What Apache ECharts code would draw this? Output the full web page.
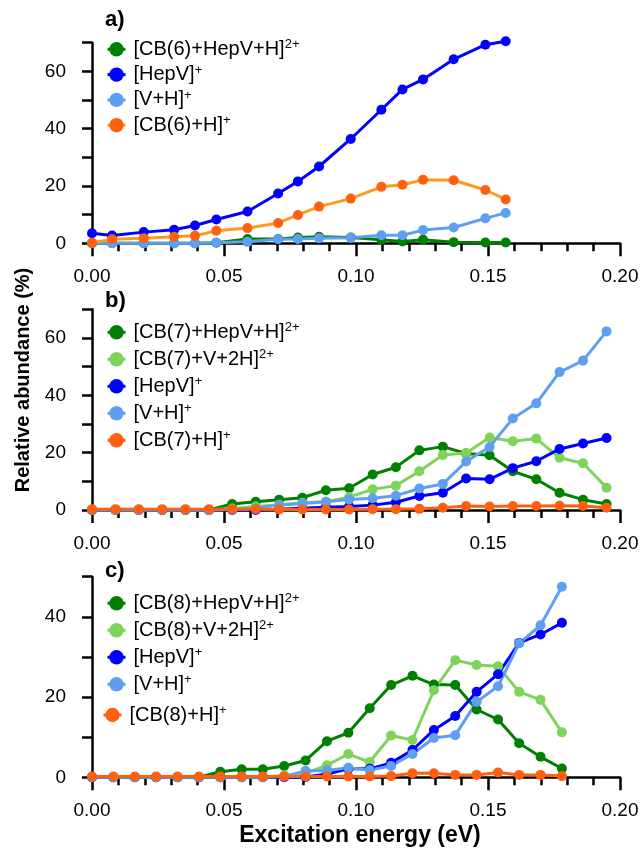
<!DOCTYPE html>
<html><head><meta charset="utf-8">
<script src="https://cdn.jsdelivr.net/npm/echarts@6/dist/echarts.min.js"></script>
<style>html,body{margin:0;padding:0;background:#fff}#c{width:643px;height:851px}</style>
</head><body><div id="c"></div>
<script>
// ---------- data ----------
const xTickLabels = ['0.00','0.05','0.10','0.15','0.20'];
const yTickLabels = [0,20,40,60];

// panel a
const xA = [0, 0.0076, 0.0196, 0.0311, 0.0390, 0.0471, 0.0589, 0.0705, 0.0780, 0.0860, 0.0980, 0.1096, 0.1176, 0.1254, 0.1370, 0.1490, 0.1567];
const aComplex = [0, 0, 0, 0, 0, 0.2, 1.5, 1.5, 2.0, 2.3, 2.0, 1.2, 0.6, 1.2, 0.4, 0.3, 0.3];
const aHepV    = [3.5, 2.7, 3.9, 4.7, 6.2, 8.3, 11.1, 17.4, 21.6, 26.8, 36.4, 46.6, 53.7, 57.2, 64.2, 69.3, 70.5];
const aVH      = [0, 0, 0, 0, 0, 0.2, 0.5, 1.4, 1.5, 1.8, 1.9, 2.8, 2.8, 4.6, 5.5, 8.7, 10.6];
const aCBH     = [0.2, 1.4, 1.8, 2.3, 2.6, 4.4, 5.3, 7.1, 9.9, 12.8, 15.6, 19.7, 20.4, 22.2, 22.0, 18.6, 15.3];

// panel b
const xB = [0, 0.0089, 0.0177, 0.0266, 0.0354, 0.0443, 0.0531, 0.0620, 0.0709, 0.0797, 0.0886, 0.0974, 0.1063, 0.1151, 0.1240, 0.1329, 0.1417, 0.1506, 0.1594, 0.1683, 0.1771, 0.1860, 0.1949];
const bComplex = [0, 0, 0, 0, 0, 0, 2.1, 2.9, 3.6, 4.3, 6.9, 7.6, 12.4, 14.9, 20.8, 22.1, 19.7, 19.1, 13.5, 10.7, 6.0, 3.6, 2.1];
const bCBV2H   = [0, 0, 0, 0, 0, 0, 0.5, 1.2, 1.8, 2.5, 2.9, 4.5, 7.2, 8.5, 13.5, 19.2, 19.9, 25.3, 24.0, 24.9, 18.2, 16.3, 7.8];
const bHepV    = [0, 0, 0, 0, 0, 0, 0, 0, 0.3, 0.6, 1.0, 1.2, 1.7, 2.7, 4.9, 6.0, 11.0, 10.7, 14.6, 17.0, 21.3, 23.2, 25.1];
const bVH      = [0, 0, 0, 0, 0, 0, 0.2, 0.6, 1.7, 2.3, 2.9, 3.7, 4.1, 5.0, 7.5, 9.1, 16.9, 22.0, 31.9, 37.2, 48.1, 52.1, 62.3];
const bCBH     = [0.3, 0.3, 0.3, 0.3, 0.3, 0.3, 0.3, 0.3, 0.2, 0.2, 0.2, 0.2, 0.3, 0.3, 0.4, 0.8, 1.4, 1.2, 1.4, 1.4, 1.5, 1.4, 0.8];

// panel c
const xC = [0, 0.0081, 0.0162, 0.0243, 0.0324, 0.0405, 0.0486, 0.0567, 0.0647, 0.0728, 0.0809, 0.0890, 0.0971, 0.1052, 0.1133, 0.1214, 0.1295, 0.1376, 0.1457, 0.1538, 0.1618, 0.1699, 0.1780];
const cComplex = [0, 0, 0, 0, 0, 0, 1.4, 2.0, 2.0, 2.8, 4.2, 9.0, 11.1, 17.2, 23.0, 25.3, 23.1, 23.0, 16.9, 14.4, 8.5, 5.1, 2.2];
const cCBV2H   = [0, 0, 0, 0, 0, 0, 0, 0, 0, 0.5, 1.0, 3.0, 5.8, 3.8, 10.4, 9.3, 21.7, 29.2, 28.0, 27.7, 21.3, 19.3, 11.2];
const cHepV    = [0, 0, 0, 0, 0, 0, 0, 0, 0, 0, 0.1, 0.8, 2.1, 2.1, 3.6, 6.8, 11.8, 15.3, 21.3, 25.7, 33.5, 35.6, 38.5];
const cVH      = [0, 0, 0, 0, 0, 0, 0, 0, 0, 0.2, 1.6, 1.7, 2.4, 1.8, 2.8, 5.8, 9.8, 10.5, 18.8, 22.7, 33.4, 37.9, 47.5];
const cCBH     = [0.2, 0.2, 0.2, 0.2, 0.2, 0.2, 0.2, 0.2, 0.2, 0.2, 0.2, 0.2, 0.2, 0.2, 0.3, 1.0, 1.0, 0.6, 0.6, 1.2, 0.6, 0.6, 0.3];

// names: [base, superscript]
const nm = {
  a1:['[CB(6)+HepV+H]','2+'], a2:['[HepV]','+'], a3:['[V+H]','+'], a4:['[CB(6)+H]','+'],
  b1:['[CB(7)+HepV+H]','2+'], b2:['[CB(7)+V+2H]','2+'], b3:['[HepV]','+'], b4:['[V+H]','+'], b5:['[CB(7)+H]','+'],
  c1:['[CB(8)+HepV+H]','2+'], c2:['[CB(8)+V+2H]','2+'], c3:['[HepV]','+'], c4:['[V+H]','+'], c5:['[CB(8)+H]','+']
};
// ---------- styles ----------
const DG = '#008000', LG = '#7ed35a', BL = '#0000ff', LB = '#5f9ff2', OR = '#ff6010', ORL = '#ff9a1e';
const FONT = 'Liberation Sans, Arial, sans-serif';

const full = k => nm[k][0] + nm[k][1];
const supOf = {};
Object.keys(nm).forEach(k => { supOf[full(k)] = nm[k]; });

function ser(k, xs, ys, color, gi, lineColor) {
  return {
    type: 'line', name: full(k), xAxisIndex: gi, yAxisIndex: gi,
    data: xs.map((x, i) => [x, ys[i]]),
    symbol: 'circle', symbolSize: 10, clip: false,
    lineStyle: { width: 3, color: lineColor || color },
    itemStyle: { color: color }, emphasis: { disabled: true }
  };
}

const grids = [
  { left: 92, width: 528, top: 42.7, height: 200.6 },
  { left: 92, width: 528, top: 309.3, height: 200.7 },
  { left: 92, width: 528, top: 576.7, height: 200.6 }
];
const yMax = [70, 70, 50];

const xAxes = grids.map((g, i) => ({
  type: 'value', gridIndex: i, min: 0, max: 0.2, interval: 0.05,
  axisLine: { show: true, onZero: false, lineStyle: { color: '#000', width: 2.5 } },
  axisTick: { show: true, length: 13, lineStyle: { color: '#000', width: 2.5 } },
  minorTick: { show: true, splitNumber: 5, length: 8, lineStyle: { color: '#000', width: 2.5 } },
  splitLine: { show: false },
  axisLabel: { margin: 24, fontSize: 19, color: '#000', fontFamily: FONT,
    formatter: v => xTickLabels[Math.round(v / 0.05)] || '' }
}));
const yAxes = grids.map((g, i) => ({
  type: 'value', gridIndex: i, min: 0, max: yMax[i], interval: 10,
  axisLine: { show: true, onZero: false, lineStyle: { color: '#000', width: 2.5 } },
  axisTick: { show: true, length: 10, lineStyle: { color: '#000', width: 2.5 } },
  splitLine: { show: false },
  axisLabel: { margin: 26, fontSize: 19, color: '#000', fontFamily: FONT,
    formatter: v => (yTickLabels.indexOf(v) >= 0 ? String(v) : '') }
}));

const series = [
  ser('a1', xA, aComplex, DG, 0), ser('a2', xA, aHepV, BL, 0), ser('a3', xA, aVH, LB, 0), ser('a4', xA, aCBH, OR, 0, ORL),
  ser('b1', xB, bComplex, DG, 1), ser('b2', xB, bCBV2H, LG, 1), ser('b3', xB, bHepV, BL, 1), ser('b4', xB, bVH, LB, 1), ser('b5', xB, bCBH, OR, 1),
  ser('c1', xC, cComplex, DG, 2), ser('c2', xC, cCBV2H, LG, 2), ser('c3', xC, cHepV, BL, 2), ser('c4', xC, cVH, LB, 2), ser('c5', xC, cCBH, OR, 2)
];

function leg(keys, left, top, gap) {
  return {
    orient: 'vertical', left: left, top: top, padding: 0, itemGap: gap,
    itemWidth: 18, itemHeight: 18, selectedMode: false,
    lineStyle: { width: 3 },
    data: keys.map(full),
    formatter: n => '{b|' + supOf[n][0] + '}{s|' + supOf[n][1] + '}',
    textStyle: {
      fontFamily: FONT, color: '#000',
      rich: {
        b: { fontSize: 20, lineHeight: 22, fontFamily: FONT, color: '#000', padding: [0, 0, 0, 3] },
        s: { fontSize: 13, lineHeight: 13, fontFamily: FONT, color: '#000', verticalAlign: 'top' }
      }
    }
  };
}

const option = {
  animation: false,
  grid: grids,
  xAxis: xAxes,
  yAxis: yAxes,
  legend: [
    leg(['a1', 'a2', 'a3', 'a4'], 106, 38.3, 4.3),
    leg(['b1', 'b2', 'b3', 'b4', 'b5'], 106, 321.3, 6),
    leg(['c1', 'c2', 'c3', 'c4'], 106, 592.3, 6),
    leg(['c5'], 102, 704, 6)
  ],
  series: series,
  graphic: [
    { type: 'text', left: 105, top: 9, style: { text: 'a)', font: 'bold 22px ' + FONT, fill: '#000' } },
    { type: 'text', left: 105, top: 290, style: { text: 'b)', font: 'bold 22px ' + FONT, fill: '#000' } },
    { type: 'text', left: 105, top: 560, style: { text: 'c)', font: 'bold 22px ' + FONT, fill: '#000' } },
    { type: 'text', x: 23, y: 380, rotation: Math.PI / 2,
      style: { text: 'Relative abundance (%)', font: 'bold 20px ' + FONT, fill: '#000', align: 'center', verticalAlign: 'middle' } },
    { type: 'text', x: 360, y: 836,
      style: { text: 'Excitation energy (eV)', font: 'bold 23px ' + FONT, fill: '#000', align: 'center', verticalAlign: 'middle' } }
  ]
};
const chart = echarts.init(document.getElementById('c'), null, { renderer: 'canvas' });
chart.setOption(option);
</script></body></html>
